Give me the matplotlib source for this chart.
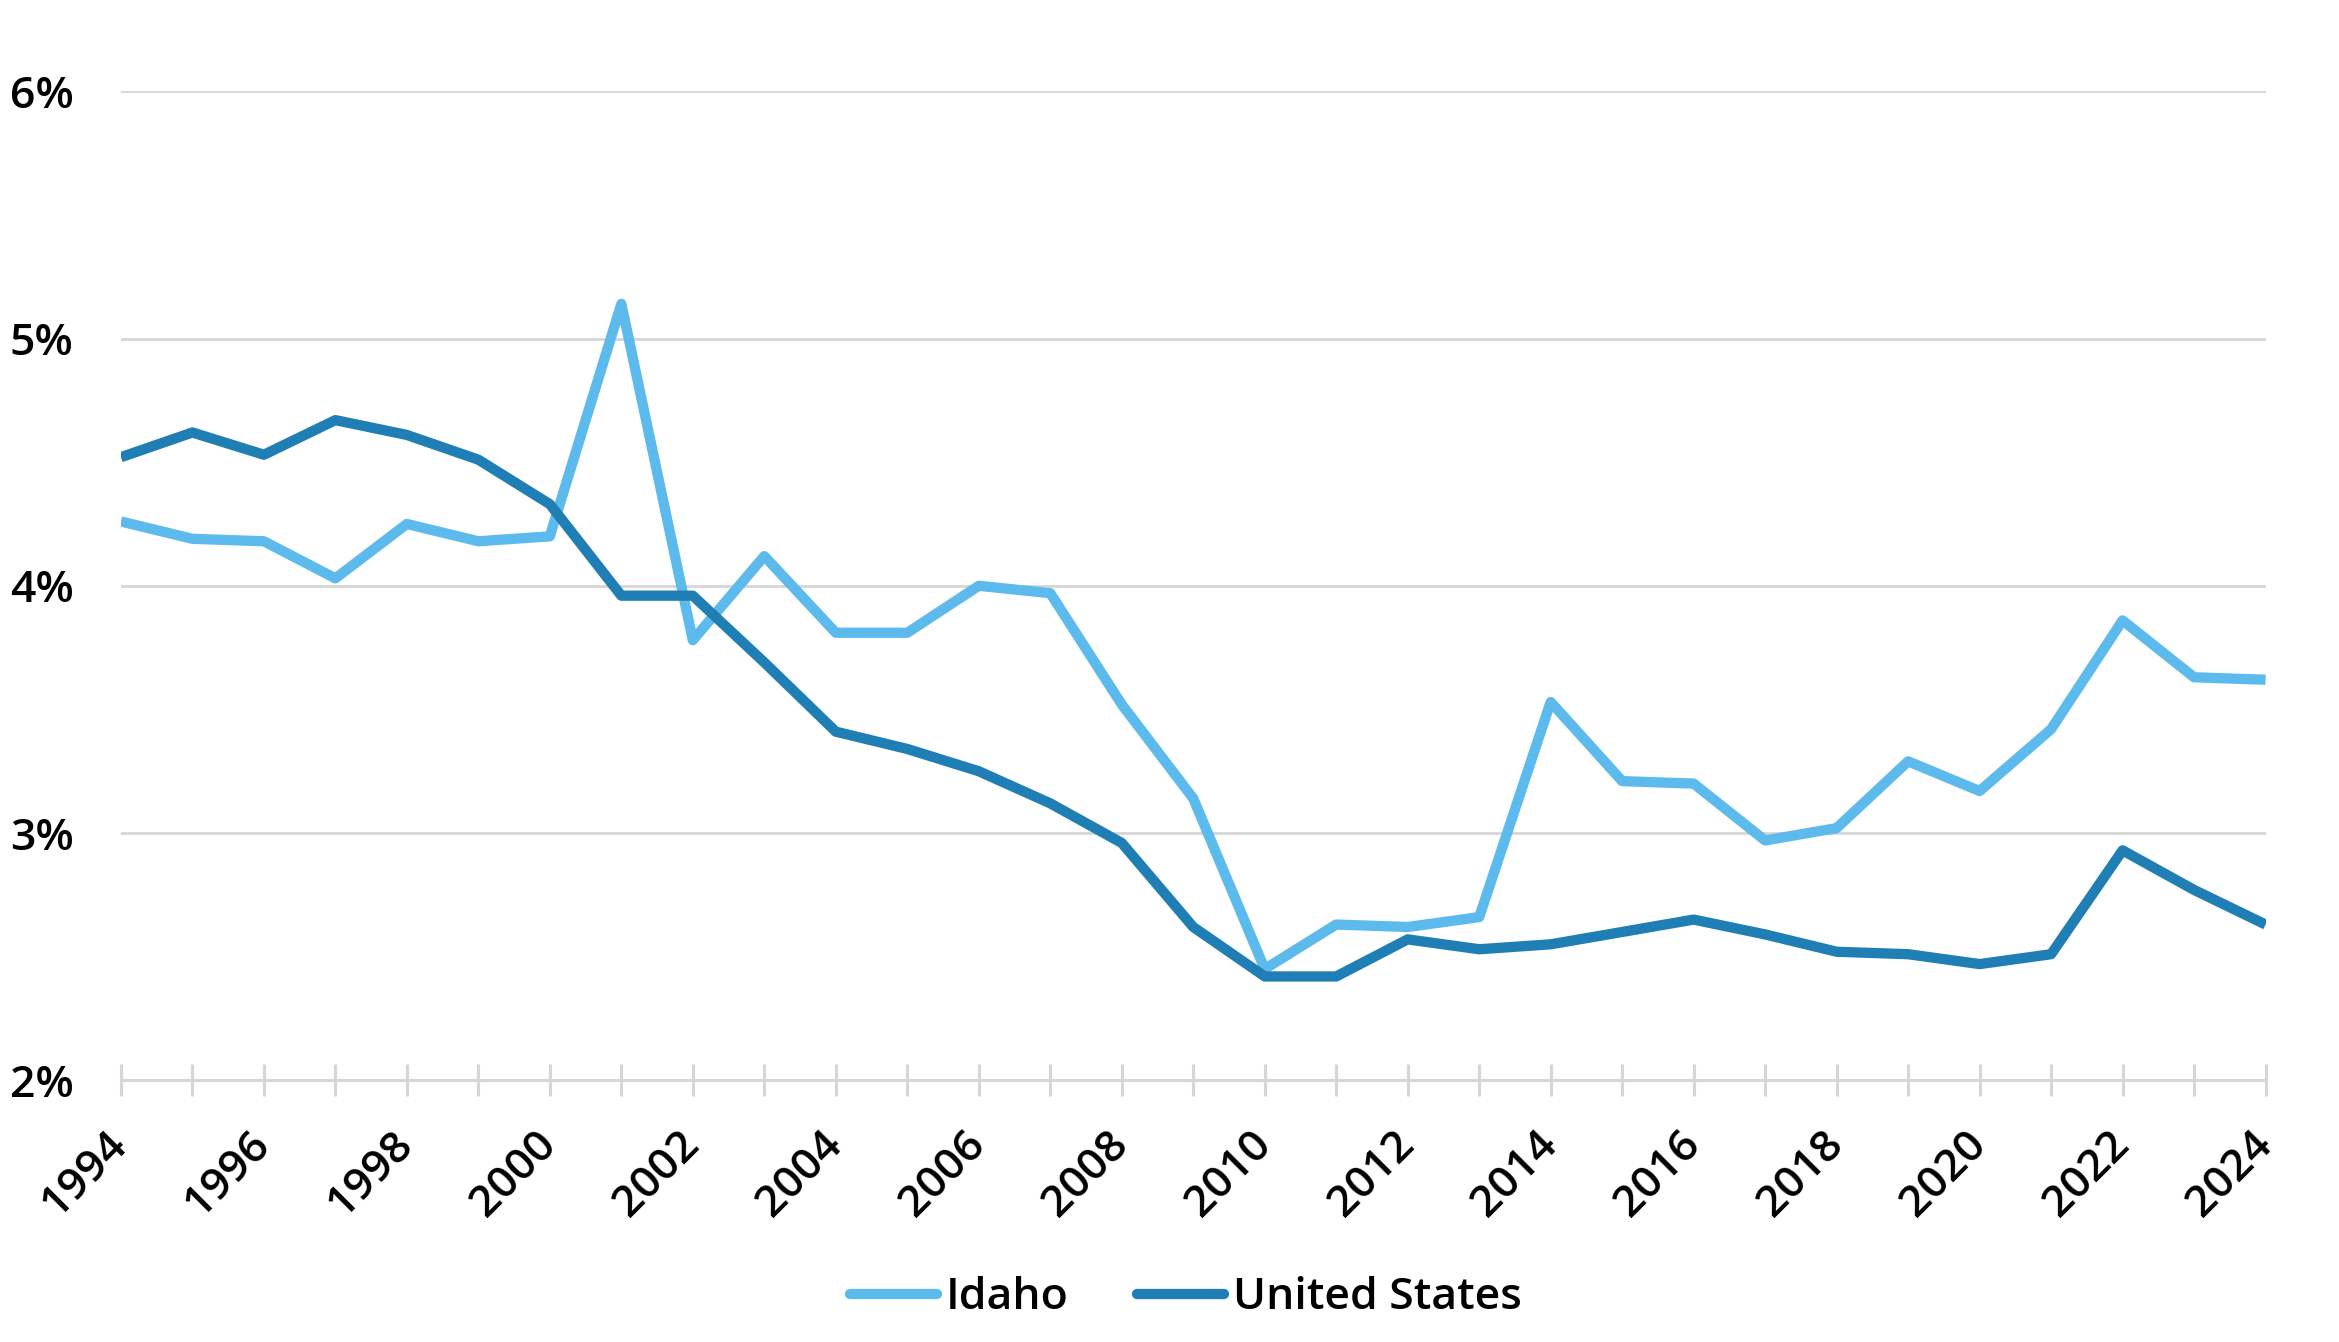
import matplotlib
matplotlib.use("Agg")
import matplotlib.pyplot as plt
from matplotlib.ticker import FuncFormatter

plt.rcParams["font.family"] = ["Open Sans", "DejaVu Sans"]

YEARS = list(range(1994, 2025))

IDAHO = [4.26, 4.19, 4.18, 4.03, 4.25, 4.18, 4.20, 5.14, 3.78, 4.12,
         3.81, 3.81, 4.00, 3.97, 3.52, 3.14, 2.45, 2.63, 2.62, 2.66,
         3.53, 3.21, 3.20, 2.97, 3.02, 3.29, 3.17, 3.42, 3.86, 3.63,
         3.62]

US = [4.52, 4.62, 4.53, 4.67, 4.61, 4.51, 4.33, 3.96, 3.96, 3.69,
      3.41, 3.34, 3.25, 3.12, 2.96, 2.62, 2.42, 2.42, 2.57, 2.53,
      2.55, 2.60, 2.65, 2.59, 2.52, 2.51, 2.47, 2.51, 2.93, 2.77,
      2.63]

SERIES = [("Idaho", IDAHO, "#5DBAED"), ("United States", US, "#1F7EB4")]
GRID = "#D6D6D6"


def main():
    fig = plt.figure(figsize=(11.695, 6.71), dpi=200)
    ax = fig.add_axes([0.0517, 0.195, 0.9169, 0.737])

    for label, vals, color in SERIES:
        ax.plot(YEARS, vals, color=color, linewidth=3.7, label=label,
                solid_joinstyle="round", solid_capstyle="butt", zorder=3)

    ax.set_xlim(1994, 2024)
    ax.set_ylim(2, 6)
    ax.set_yticks([2, 3, 4, 5, 6])
    ax.yaxis.set_major_formatter(FuncFormatter(lambda v, _: f"{v:.0f}%"))
    ax.set_xticks(YEARS)
    ax.set_xticklabels([str(y) if (y - 1994) % 2 == 0 else "" for y in YEARS])

    ax.grid(axis="y", color=GRID, linewidth=1.0, zorder=0)
    for side in ("top", "right", "left"):
        ax.spines[side].set_visible(False)
    ax.spines["bottom"].set_color(GRID)
    ax.spines["bottom"].set_linewidth(1.1)

    ax.tick_params(axis="y", length=0, pad=17, labelsize=16)
    ax.tick_params(axis="x", direction="inout", length=11.5, width=1.1,
                   color=GRID, pad=15, labelsize=16)
    for t in ax.get_yticklabels():
        t.set_fontweight("semibold")
    for t in ax.get_xticklabels():
        t.set_rotation(45)
        t.set_ha("right")
        t.set_va("center")
        t.set_rotation_mode("anchor")
        t.set_fontweight("semibold")

    leg = fig.legend(loc="center", bbox_to_anchor=(0.507, 0.033), ncol=2,
                     frameon=False, fontsize=16, handlelength=1.95,
                     handletextpad=0.2, columnspacing=1.55)
    for t in leg.get_texts():
        t.set_fontweight("semibold")
    for h in leg.get_lines():
        h.set_linewidth(3.7)
        h.set_solid_capstyle("round")

    fig.savefig("out.png", dpi=200)


if __name__ == "__main__":
    main()
